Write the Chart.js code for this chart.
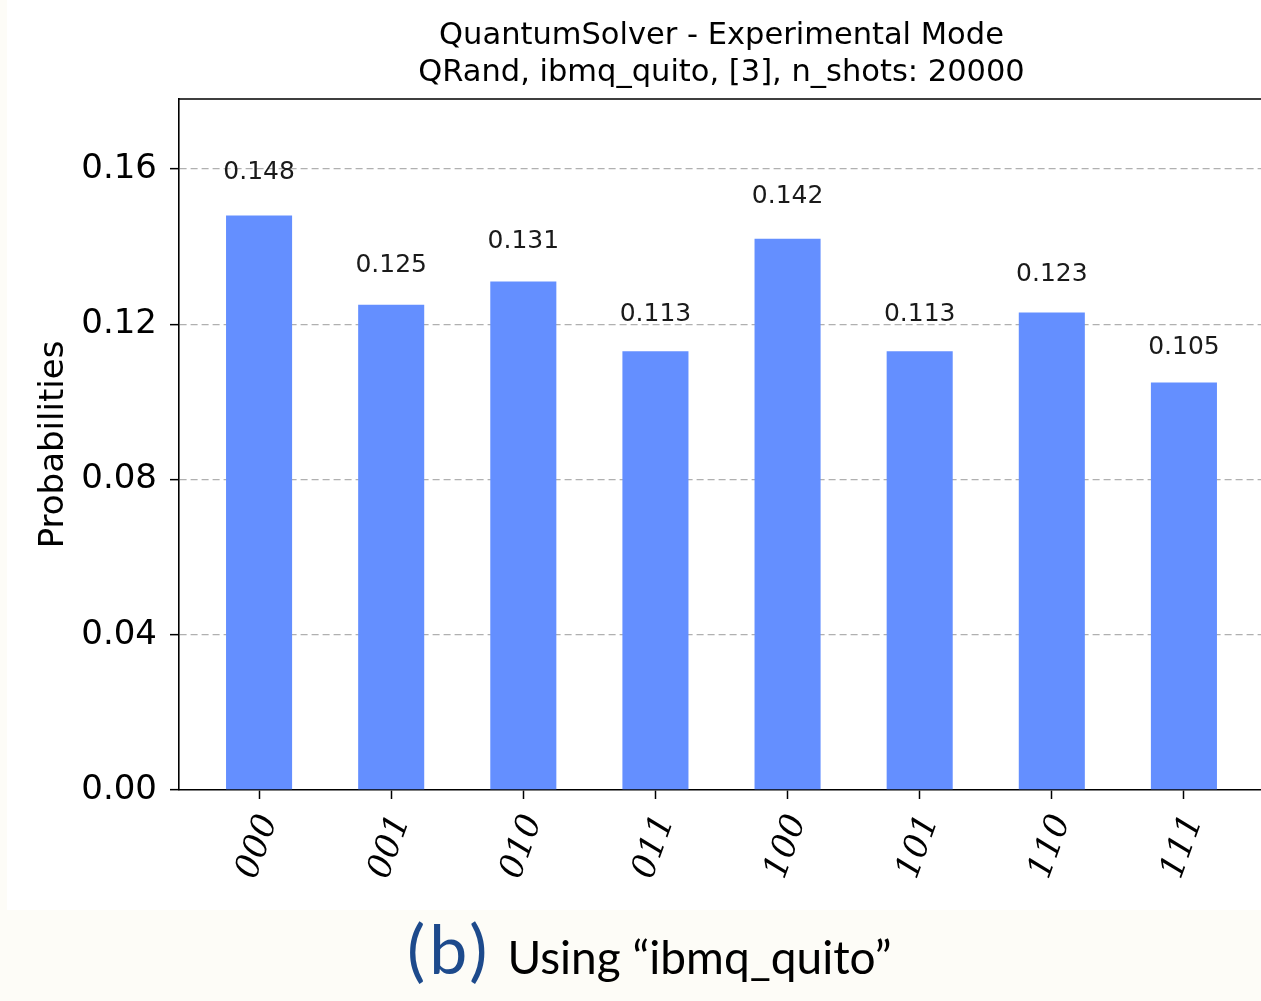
<!DOCTYPE html>
<html>
<head>
<meta charset="utf-8">
<script src="https://cdn.jsdelivr.net/npm/chart.js@4/dist/chart.umd.min.js"></script>
<style>
  html, body { margin: 0; padding: 0; width: 1261px; height: 1001px; overflow: hidden; background: #fdfcf7; }
  #panel { position: absolute; left: 7px; top: 0; width: 1254px; height: 910px; background: #ffffff; overflow: hidden; }
  #panel canvas { position: absolute; left: 0; top: 0; }
  #caption { position: absolute; left: 407px; top: 914px; display: flex; align-items: baseline; white-space: nowrap; line-height: 1; font-family: Lato, "Noto Sans", sans-serif; }
  #tag { font-size: 68px; font-weight: 400; color: #1d4a8c; letter-spacing: 4px; }
  #desc { font-size: 46px; color: #000; margin-left: 16px; }
</style>
</head>
<body>
<div id="panel"><canvas id="hist" width="1270" height="910"></canvas></div>
<div id="caption"><span id="tag">(b)</span><span id="desc">Using “ibmq_quito”</span></div>
<script>
// Measured outcome probabilities for the 3-qubit QRand circuit
const categories = ['000', '001', '010', '011', '100', '101', '110', '111'];
const probabilities = [0.148, 0.125, 0.131, 0.113, 0.142, 0.113, 0.123, 0.105];
const yTicks = [0.00, 0.04, 0.08, 0.12, 0.16];
const titleLines = ['QuantumSolver - Experimental Mode', 'QRand, ibmq_quito, [3], n_shots: 20000'];
const yLabel = 'Probabilities';

const BAR_COLOR = '#648fff';

// Title, top spine, value annotations and rotated outcome labels
const annotate = {
  id: 'annotate',
  afterDraw(chart) {
    const { ctx, chartArea: a, scales: { x, y } } = chart;
    ctx.save();

    ctx.strokeStyle = '#000';
    ctx.lineWidth = 1.6;
    ctx.beginPath();
    ctx.moveTo(a.left, a.top);
    ctx.lineTo(a.right, a.top);
    ctx.lineTo(a.right, a.bottom);
    ctx.stroke();

    ctx.fillStyle = '#000';
    ctx.textAlign = 'center';
    ctx.textBaseline = 'middle';
    ctx.font = '30.5px "DejaVu Sans"';
    const cx = (a.left + a.right) / 2;
    titleLines.forEach((t, i) => ctx.fillText(t, cx, 36 + i * 37.5));

    ctx.font = '25px "DejaVu Sans"';
    ctx.fillStyle = '#1a1a1a';
    ctx.textBaseline = 'bottom';
    probabilities.forEach((v, i) => {
      ctx.fillText(v.toFixed(3), x.getPixelForValue(i), y.getPixelForValue(v * 1.05) - 2);
    });

    ctx.font = 'italic 34px "DejaVu Serif"';
    ctx.fillStyle = '#000';
    ctx.textBaseline = 'middle';
    categories.forEach((c, i) => {
      ctx.save();
      ctx.translate(x.getPixelForValue(i) - 1, a.bottom + 57);
      ctx.rotate(-70 * Math.PI / 180);
      ctx.fillText(c, 0, 0);
      ctx.restore();
    });
    ctx.restore();
  }
};

new Chart(document.getElementById('hist'), {
  type: 'bar',
  data: {
    datasets: [{
      data: probabilities.map((p, i) => ({ x: i, y: p })),
      backgroundColor: BAR_COLOR,
      borderWidth: 0,
      barPercentage: 0.5,
      categoryPercentage: 1.0
    }]
  },
  options: {
    responsive: false,
    animation: false,
    events: [],
    devicePixelRatio: 1,
    layout: { padding: { top: 99, left: 0, right: 13, bottom: 0 } },
    plugins: { legend: { display: false }, tooltip: { enabled: false }, title: { display: false } },
    scales: {
      x: {
        type: 'linear',
        offset: false,
        min: -0.606,
        max: categories.length - 1 + 0.606,
        afterBuildTicks: s => { s.ticks = categories.map((_, i) => ({ value: i })); },
        afterFit: s => { s.height = 120; },
        ticks: { display: false },
        grid: { display: true, offset: false, drawOnChartArea: false, drawTicks: true, tickLength: 9, tickColor: '#000', tickWidth: 1.5 },
        border: { display: true, color: '#000', width: 1.6 }
      },
      y: {
        type: 'linear',
        min: 0,
        max: 0.178,
        afterBuildTicks: s => { s.ticks = yTicks.map(v => ({ value: v })); },
        afterFit: s => { s.width = 172; },
        ticks: {
          padding: 13,
          color: '#000',
          font: { family: 'DejaVu Sans', size: 34 },
          callback: v => Number(v).toFixed(2)
        },
        grid: {
          color: c => (c.tick && c.tick.value === 0 ? 'rgba(0,0,0,0)' : '#b0b0b0'),
          lineWidth: 1.3,
          drawTicks: true,
          tickLength: 9,
          tickColor: '#000',
          tickWidth: 1.5,
          tickBorderDash: []
        },
        border: { display: true, color: '#000', width: 1.6, dash: [7, 4] },
        title: {
          display: true,
          text: yLabel,
          color: '#000',
          font: { family: 'DejaVu Sans', size: 34 },
          padding: { top: 27, bottom: 0 }
        }
      }
    }
  },
  plugins: [annotate]
});
</script>
</body>
</html>
